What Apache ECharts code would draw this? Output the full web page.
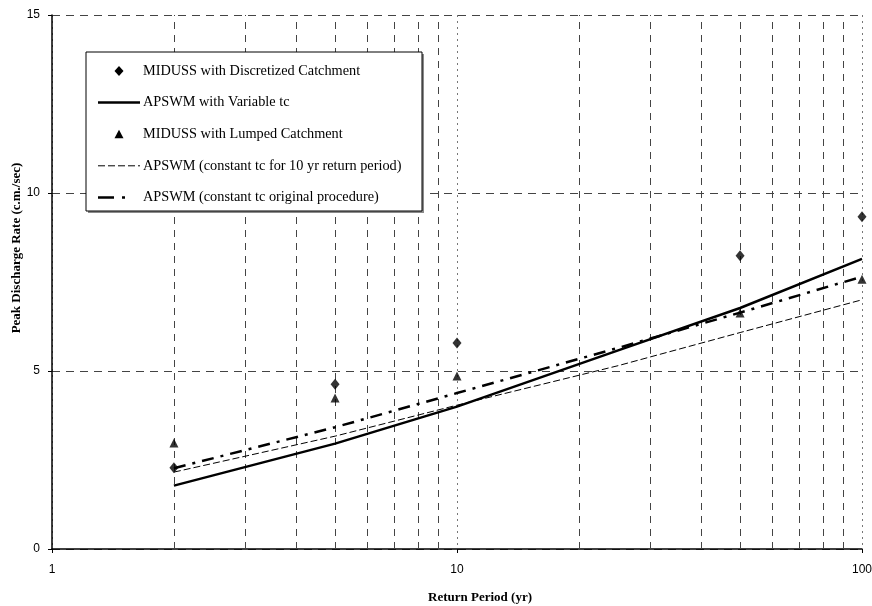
<!DOCTYPE html>
<html>
<head>
<meta charset="utf-8">
<script src="https://cdn.jsdelivr.net/npm/echarts@6/dist/echarts.min.js"></script>
<style>
  html, body { margin: 0; padding: 0; background: #fff; }
  #chart { width: 872px; height: 606px; }
</style>
</head>
<body>
<div id="chart"></div>
<script>
// Return periods (yr) of the MIDUSS simulations
const midussPeriods = [2, 5, 10, 50, 100];
// Peak discharge (c.m./sec), MIDUSS runs
const midussDiscretized = [2.28, 4.63, 5.79, 8.24, 9.33];
const midussLumped = [2.98, 4.24, 4.86, 6.63, 7.58];

// Return periods (yr) of the APSWM curves
const apswmPeriods = [2, 5, 10, 25, 50, 100];
// Peak discharge (c.m./sec), APSWM variants
const apswmVariableTc = [1.78, 2.96, 4.0, 5.58, 6.77, 8.15];
const apswmConstTc10 = [2.16, 3.17, 4.04, 5.15, 6.08, 7.0];
const apswmConstTcOriginal = [2.27, 3.42, 4.38, 5.65, 6.64, 7.65];

// Intermediate log-decade gridline positions
const minorGridValues = [2, 3, 4, 5, 6, 7, 8, 9, 20, 30, 40, 50, 60, 70, 80, 90];

const seriesNames = [
  'MIDUSS with Discretized Catchment',
  'APSWM with Variable tc',
  'MIDUSS with Lumped Catchment',
  'APSWM (constant tc for 10 yr return period)',
  'APSWM (constant tc original procedure)'
];

const pairs = (xs, ys) => xs.map((x, i) => [x, ys[i]]);

const serif = 'Liberation Serif, Times New Roman, serif';
const sans = 'Liberation Sans, Arial, sans-serif';

// Line styles shared by the series and their legend keys
const styleVariable = { stroke: '#000', lineWidth: 2.5 };
const styleConst10 = { stroke: '#000', lineWidth: 1, lineDash: [7, 3] };
const styleOriginal = { stroke: '#000', lineWidth: 2.5, lineDash: [12, 7, 3, 7] };

// Framed key box drawn as graphic elements
function buildKey() {
  const boxX = 86, boxY = 52, boxW = 336, boxH = 159;
  const iconL = 98, iconR = 140, iconMid = 119, textX = 143;
  const rowY0 = 71, rowStep = 31.6;
  const els = [
    { type: 'rect', shape: { x: boxX + 2, y: boxY + 2, width: boxW, height: boxH }, style: { fill: '#8a8a8a' }, z: 100 },
    { type: 'rect', shape: { x: boxX, y: boxY, width: boxW, height: boxH }, style: { fill: '#fff', stroke: '#000', lineWidth: 1 }, z: 101 }
  ];
  const icons = [
    y => ({ type: 'polygon', shape: { points: [[iconMid, y - 5], [iconMid + 4.5, y], [iconMid, y + 5], [iconMid - 4.5, y]] }, style: { fill: '#000' } }),
    y => ({ type: 'line', shape: { x1: iconL, y1: y, x2: iconR, y2: y }, style: styleVariable }),
    y => ({ type: 'polygon', shape: { points: [[iconMid, y - 4.5], [iconMid + 4.5, y + 4], [iconMid - 4.5, y + 4]] }, style: { fill: '#000' } }),
    y => ({ type: 'line', shape: { x1: iconL, y1: y, x2: iconR, y2: y }, style: styleConst10 }),
    y => ({ type: 'line', shape: { x1: iconL, y1: y, x2: iconR, y2: y }, style: Object.assign({}, styleOriginal, { lineDash: [16, 8, 3, 20] }) })
  ];
  seriesNames.forEach((name, i) => {
    const y = rowY0 + i * rowStep;
    const icon = icons[i](y);
    icon.z = 102;
    els.push(icon);
    els.push({
      type: 'text', z: 102,
      style: { x: textX, y: y, text: name, fill: '#000', font: '14.3px ' + serif, textVerticalAlign: 'middle', verticalAlign: 'middle' }
    });
  });
  return els;
}

const chart = echarts.init(document.getElementById('chart'), null, { renderer: 'canvas' });

chart.setOption({
  animation: false,
  backgroundColor: '#fff',
  grid: { left: 52, right: 10, top: 15, bottom: 57, containLabel: false, outerBoundsMode: 'none' },
  xAxis: {
    type: 'log',
    logBase: 10,
    min: 1,
    max: 100,
    name: 'Return Period (yr)',
    nameLocation: 'middle',
    nameGap: 42,
    nameMoveOverlap: false,
    nameTextStyle: { fontFamily: serif, fontSize: 13, fontWeight: 'bold', color: '#000', padding: [0, 0, 0, 46] },
    axisLine: { show: true, onZero: false, lineStyle: { color: '#000', width: 1.5 } },
    axisTick: { show: true, length: 4, lineStyle: { color: '#000' } },
    axisLabel: { fontFamily: sans, fontSize: 12, color: '#000', margin: 15 },
    splitLine: { show: true, lineStyle: { color: '#777', type: [2, 4], width: 1 } },
    minorTick: { show: false },
    minorSplitLine: { show: false }
  },
  yAxis: {
    type: 'value',
    min: 0,
    max: 15,
    interval: 5,
    name: 'Peak Discharge Rate (c.m./sec)',
    nameLocation: 'middle',
    nameGap: 29,
    nameMoveOverlap: false,
    nameTextStyle: { fontFamily: serif, fontSize: 13, fontWeight: 'bold', color: '#000', padding: [0, 0, 0, 68] },
    axisLine: { show: true, lineStyle: { color: '#000', width: 1.5 } },
    axisTick: { show: true, length: 4, lineStyle: { color: '#000' } },
    axisLabel: { fontFamily: sans, fontSize: 12, color: '#000', margin: 12 },
    splitLine: { show: true, lineStyle: { color: '#444', type: [8, 6], width: 1 } }
  },
  graphic: buildKey(),
  series: [
    {
      name: seriesNames[0],
      type: 'scatter',
      symbol: 'diamond',
      symbolSize: [9, 11],
      itemStyle: { color: '#000' },
      data: pairs(midussPeriods, midussDiscretized),
      z: 5,
      markLine: {
        silent: true,
        symbol: 'none',
        label: { show: false },
        lineStyle: { color: '#444', type: [7, 6], width: 1 },
        data: minorGridValues.map(v => ({ xAxis: v })),
        z: 1
      }
    },
    {
      name: seriesNames[1],
      type: 'line',
      symbol: 'none',
      lineStyle: { color: '#000', width: styleVariable.lineWidth, type: 'solid' },
      data: pairs(apswmPeriods, apswmVariableTc),
      z: 4
    },
    {
      name: seriesNames[2],
      type: 'scatter',
      symbol: 'triangle',
      symbolSize: 9,
      itemStyle: { color: '#000' },
      data: pairs(midussPeriods, midussLumped),
      z: 5
    },
    {
      name: seriesNames[3],
      type: 'line',
      symbol: 'none',
      lineStyle: { color: '#000', width: styleConst10.lineWidth, type: styleConst10.lineDash },
      data: pairs(apswmPeriods, apswmConstTc10),
      z: 4
    },
    {
      name: seriesNames[4],
      type: 'line',
      symbol: 'none',
      lineStyle: { color: '#000', width: styleOriginal.lineWidth, type: styleOriginal.lineDash },
      data: pairs(apswmPeriods, apswmConstTcOriginal),
      z: 4
    }
  ]
});
</script>
</body>
</html>
